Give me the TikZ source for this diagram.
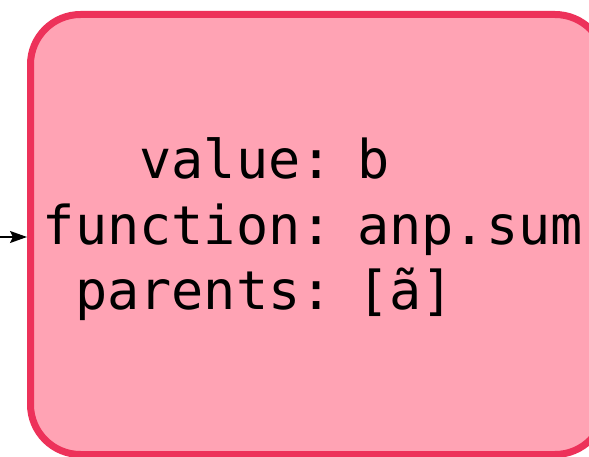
\documentclass[tikz,border=0pt]{standalone}
\usepackage{fontspec}
\setmonofont{DejaVu Sans Mono}
\usetikzlibrary{arrows.meta}
\definecolor{boxfill}{RGB}{255,163,180}
\definecolor{boxline}{RGB}{237,50,90}
\tikzset{
  lbl/.style={font=\ttfamily\fontsize{53.5}{60}\selectfont, inner sep=0pt},
  boxstyle/.style={draw=boxline, fill=boxfill, line width=7pt, rounded corners=50pt, inner sep=0pt, rectangle},
  conn/.style={line width=1.5pt, -{Stealth[length=17pt,width=12pt,inset=3pt]}}
}
\begin{document}
\begin{tikzpicture}[x=1pt,y=1pt]
\useasboundingbox (0,0) rectangle (589,456);
\clip (0,0) rectangle (589,456);
\node[boxstyle, minimum width=574.5pt, minimum height=440pt] (box) at (317.75,221.5) {};
\coordinate (src) at (-2,219);
\draw[conn] (src) -- (src -| box.west);
\node[lbl, anchor=base east] (k1) at (333,277) {value:};
\node[lbl, anchor=base east] (k2) at (333,212) {function:};
\node[lbl, anchor=base east] (k3) at (333,147) {parents:};
\node[lbl, anchor=base west] (v1) at (357,277) {b};
\node[lbl, anchor=base west] (v2) at (357,212) {anp.sum};
\node[lbl, anchor=base west] (v3) at (357,147) {[ã]};
\end{tikzpicture}
\end{document}
